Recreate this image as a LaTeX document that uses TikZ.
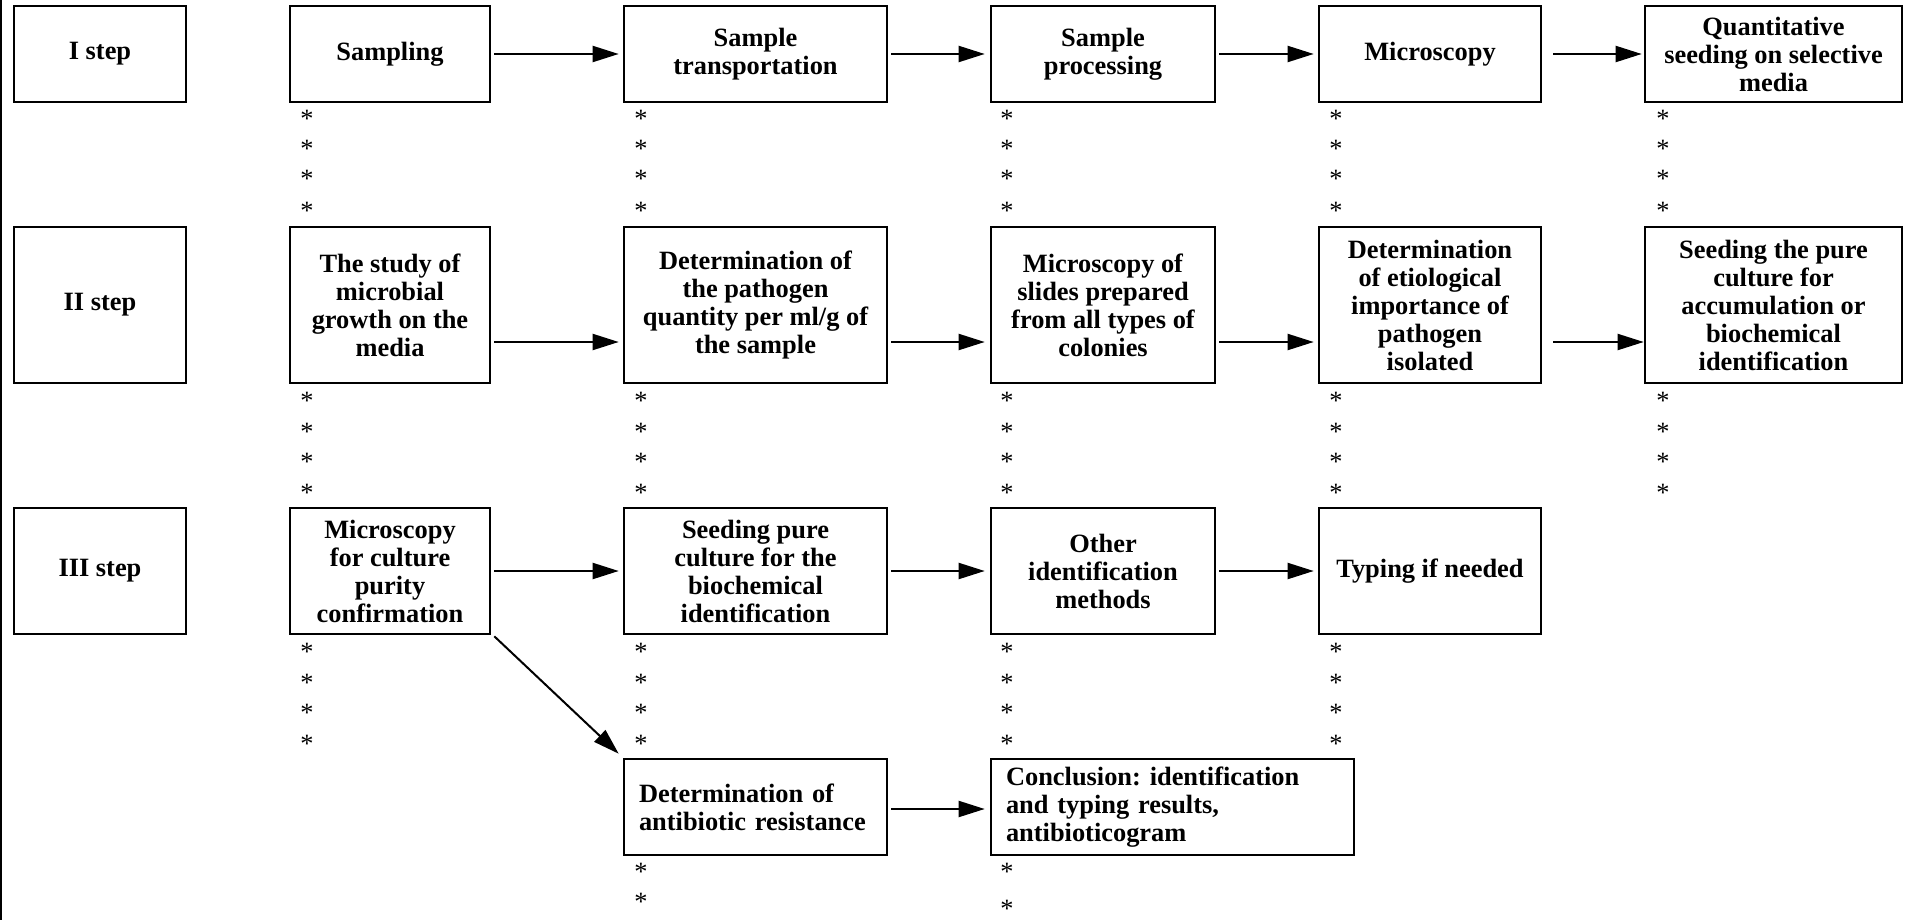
\documentclass[tikz,border=0pt]{standalone}
\usepackage{fontspec}
\setmainfont{Liberation Serif}
\usetikzlibrary{arrows.meta}
\frenchspacing
\newcommand{\astglyph}{\raisebox{0pt}[0.68em][-0.26em]{*}}
\begin{document}
\begin{tikzpicture}[x=0.5pt,y=-0.5pt,
  box/.style={draw, line width=1.3pt, inner sep=0pt, align=center,
    font=\bfseries\fontsize{13.2}{14}\selectfont},
  lbox/.style={box, align=left, inner xsep=7.5pt, minimum height=48pt},
  arr/.style={line width=1pt, -{Triangle[length=13pt,width=8pt]}},
  ast/.style={inner sep=0pt, anchor=base, font=\fontsize{13.2}{14}\selectfont},
  r1/.style={minimum height=48pt},
  r2/.style={minimum height=78pt},
  r3/.style={minimum height=63pt}]
\useasboundingbox (0,0) rectangle (1906,920);
% left rule
\coordinate (lt) at (1,0);
\coordinate (lb) at (1,920);
\draw[line width=1.2pt] (lt) -- (lb);
% step labels
\node[box, r1, minimum width=86pt] (st1) at (100,54) {I step};
\node[box, r2, minimum width=86pt] (st2) at (100,305) {II step};
\node[box, r3, minimum width=86pt] (st3) at (100,571) {III step};
% row 1
\node[box, r1, minimum width=100pt]   (a1) at (390,54)    {Sampling};
\node[box, r1, minimum width=131.5pt] (b1) at (755.5,54)  {Sample\\transportation};
\node[box, r1, minimum width=112pt]   (c1) at (1103,54)   {Sample\\processing};
\node[box, r1, minimum width=111pt]   (d1) at (1430,54)   {Microscopy};
\node[box, r1, minimum width=128.5pt] (e1) at (1773.5,54) {Quantitative\\seeding on selective\\media};
% row 2
\node[box, r2, minimum width=100pt]   (a2) at (390,305)    {The study of\\microbial\\growth on the\\media};
\node[box, r2, minimum width=131.5pt] (b2) at (755.5,305)  {Determination of\\the pathogen\\quantity per ml/g of\\the sample};
\node[box, r2, minimum width=112pt]   (c2) at (1103,305)   {Microscopy of\\slides prepared\\from all types of\\colonies};
\node[box, r2, minimum width=111pt]   (d2) at (1430,305)   {Determination\\of etiological\\importance of\\pathogen\\isolated};
\node[box, r2, minimum width=128.5pt] (e2) at (1773.5,305) {Seeding the pure\\culture for\\accumulation or\\biochemical\\identification};
% row 3
\node[box, r3, minimum width=100pt]   (a3) at (390,571)   {Microscopy\\for culture\\purity\\confirmation};
\node[box, r3, minimum width=131.5pt] (b3) at (755.5,571) {Seeding pure\\culture for the\\biochemical\\identification};
\node[box, r3, minimum width=112pt]   (c3) at (1103,571)  {Other\\identification\\methods};
\node[box, r3, minimum width=111pt]   (d3) at (1430,571)  {Typing if needed};
% row 4
\node[lbox, text width=116.5pt] (b4) at (755.5,807)  {Determination of\\antibiotic resistance};
\node[lbox, text width=166.5pt] (c4) at (1172.5,807) {Conclusion: identification\\and typing results,\\antibioticogram};
% arrows row 1
\draw[arr] ([xshift=1.5pt]a1.east) -- ([xshift=-2pt]b1.west);
\draw[arr] ([xshift=1.5pt]b1.east) -- ([xshift=-2.5pt]c1.west);
\draw[arr] ([xshift=1.5pt]c1.east) -- ([xshift=-2pt]d1.west);
\draw[arr] ([xshift=5.5pt]d1.east) -- ([xshift=-1pt]e1.west);
% arrows row 2
\draw[arr] ([shift={(1.5pt,-18.5pt)}]a2.east) -- ([shift={(-2pt,-18.5pt)}]b2.west);
\draw[arr] ([shift={(1.5pt,-18.5pt)}]b2.east) -- ([shift={(-2.5pt,-18.5pt)}]c2.west);
\draw[arr] ([shift={(1.5pt,-18.5pt)}]c2.east) -- ([shift={(-2pt,-18.5pt)}]d2.west);
\draw[arr] ([shift={(5.5pt,-18.5pt)}]d2.east) -- ([shift={(0pt,-18.5pt)}]e2.west);
% arrows row 3
\draw[arr] ([xshift=1.5pt]a3.east) -- ([xshift=-2pt]b3.west);
\draw[arr] ([xshift=1.5pt]b3.east) -- ([xshift=-2.5pt]c3.west);
\draw[arr] ([xshift=1.5pt]c3.east) -- ([xshift=-2pt]d3.west);
% arrows row 4
\draw[arr] ([shift={(1.5pt,-1pt)}]b4.east) -- ([shift={(-2.5pt,-1pt)}]c4.west);
\draw[arr] ([shift={(1.5pt,-0.5pt)}]a3.south east) -- ([shift={(-2pt,2pt)}]b4.north west);
% asterisks
\foreach \x in {307,641,1007,1336,1663} {
  \foreach \y in {115,145,175,207,397,428,458,489} {
    \node[ast] (s-\x-\y) at (\x,\y+12) {\astglyph};
  }
}
\foreach \x in {307,641,1007,1336} {
  \foreach \y in {648,679,709,740} {
    \node[ast] (s-\x-\y) at (\x,\y+12) {\astglyph};
  }
}
\foreach \y in {868,898} { \node[ast] (t-641-\y) at (641,\y+12) {\astglyph}; }
\foreach \y in {868,905} { \node[ast] (t-1007-\y) at (1007,\y+12) {\astglyph}; }
\end{tikzpicture}
\end{document}
